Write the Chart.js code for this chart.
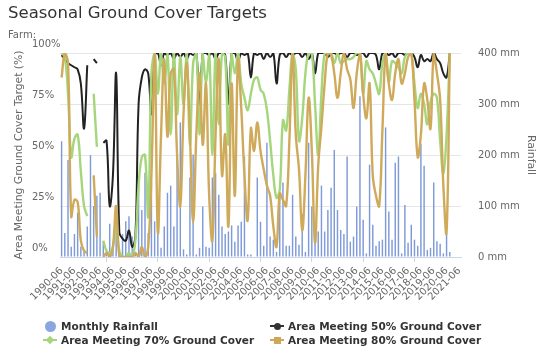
<!DOCTYPE html>
<html>
<head>
<meta charset="utf-8">
<script src="https://cdn.jsdelivr.net/npm/chart.js@4.4.1/dist/chart.umd.min.js"></script>
<style>
  body { margin: 0; background: #fff; }
  #wrap { position: relative; width: 552px; height: 362px; }
  .txt { position: absolute; font: bold 10.5px 'DejaVu Sans', sans-serif; color: #333; line-height: 14px; white-space: nowrap; }
  .mk { position: absolute; }
</style>
</head>
<body>
<div id="wrap">
  <canvas id="myChart" width="552" height="362"></canvas>
  <div id="legend">
    <span class="mk" style="left:44.5px;top:320.5px;width:11px;height:11px;border-radius:50%;background:#8ba5e0"></span>
    <span class="txt" style="left:61px;top:319px">Monthly Rainfall</span>

    <span class="mk" style="left:270px;top:325px;width:14px;height:2px;background:#333"></span>
    <span class="mk" style="left:273.5px;top:322.5px;width:7px;height:7px;border-radius:50%;background:#333"></span>
    <span class="txt" style="left:288px;top:319px">Area Meeting 50% Ground Cover</span>

    <span class="mk" style="left:43px;top:339px;width:14px;height:2px;background:#a5d67c"></span>
    <span class="mk" style="left:47px;top:337px;width:6px;height:6px;transform:rotate(45deg);background:#a5d67c"></span>
    <span class="txt" style="left:61px;top:333px">Area Meeting 70% Ground Cover</span>

    <span class="mk" style="left:270px;top:339px;width:14px;height:2px;background:#cda857"></span>
    <span class="mk" style="left:273.5px;top:336.5px;width:7px;height:7px;background:#cda857"></span>
    <span class="txt" style="left:288px;top:333px">Area Meeting 80% Ground Cover</span>
  </div>
</div>
<script>
// seasons, one label per quarter from 1990-06 to 2021-06
var seasons = [];
var months = ['03', '06', '09', '12'];
for (var yr = 1990; yr <= 2021; yr++) {
  months.forEach(function(m) {
    var lbl = yr + '-' + m;
    if (lbl >= '1990-06' && lbl <= '2021-06') seasons.push(lbl);
  });
}

// rainfall (mm)
var rainfall = [
  227, 47, 190, 20, 45, 87, 20, 10, 60, 200,
  100, 120, 126, 30, 10, 65, 20, 90, 10, 45,
  70, 80, 40, 10, 142, 92, 165, 47, 146, 70,
  47, 18, 60, 126, 140, 60, 217, 264, 15, 5,
  156, 201, 5, 18, 99, 20, 18, 156, 165, 122,
  60, 45, 50, 62, 30, 62, 69, 197, 5, 5,
  0, 156, 69, 22, 224, 40, 34, 10, 122, 146,
  22, 22, 122, 40, 24, 85, 10, 224, 99, 60,
  50, 140, 50, 92, 136, 210, 92, 53, 45, 197,
  30, 40, 99, 315, 73, 7, 181, 63, 22, 31,
  34, 254, 89, 34, 185, 197, 7, 102, 28, 63,
  34, 22, 222, 179, 14, 18, 146, 31, 26, 7,
  45, 10, 0, 0, 0
];

// % of area meeting 50% cover
var cover50 = [
  99, 97, 95, 94, 93, 92, 85, 63, 94, null,
  97, 95, null, 56, 57, 25, 40, 90, 12, 9,
  8, 13, 5, 10, 75, 88, 92, 90, 70, 99,
  100, 94, 100, 99, 100, 97, 100, 98, 100, 97,
  100, 99, 100, 74, 100, 100, 99, 100, 97, 100,
  100, 99, 75, 100, 100, 96, 100, 99, 100, 88,
  100, 99, 100, 97, 100, 98, 100, 85, 99, 100,
  98, 100, 99, 100, 100, 98, 100, 97, 100, 90,
  100, 100, 100, 98, 100, 100, 99, 100, 100, 98,
  100, 100, 99, 100, 100, 98, 100, 100, 99, 92,
  100, 100, 99, 100, 98, 100, 100, 99, 100, 100,
  98, 93, 99, 96, 97, 96, 100, 97, 95, 90,
  88, 100, null, null, null
];

// % of area meeting 70% cover
var cover70 = [
  100, 98, 80, 49, 58, 60, 42, 25, 20, null,
  80, 54, null, 8, 3, 2, 5, 15, 3, 0,
  0, 2, 0, 8, 35, 49, 50, 20, 90, 100,
  80, 100, 85, 100, 60, 100, 70, 98, 75, 100,
  55, 95, 100, 60, 100, 85, 100, 50, 100, 65,
  100, 98, 55, 100, 90, 100, 85, 78, 72, 80,
  87, 88, 82, 80, 72, 57, 40, 29, 33, 67,
  62, 82, 100, 92, 57, 68, 90, 100, 100, 75,
  50, 80, 100, 100, 100, 95, 100, 95, 96, 97,
  97, 98, 100, 100, 80, 96, 92, 90, 85, 80,
  95, 100, 86, 96, 95, 93, 90, 98, 100, 100,
  85, 73, 80, 75, 65, 76, 80, 78, 57, 41,
  60, 100, null, null, null
];

// % of area meeting 80% cover
var cover80 = [
  88, 100, 95, 20, 28, 27, 8, 3, 2, null,
  40, 10, null, 0, 2, 0, 5, 25, 0, 0,
  0, 0, 0, 2, 0, 5, 0, 5, 40, 100,
  12, 60, 97, 59, 90, 92, 50, 25, 70, 95,
  60, 17, 60, 90, 55, 85, 30, 8, 60, 97,
  40, 60, 15, 85, 30, 97, 73, 40, 18, 63,
  52, 66, 52, 43, 35, 30, 15, 5, 31, 28,
  25, 57, 100, 60, 43, 13, 40, 78, 52, 7,
  45, 64, 85, 100, 99, 90, 78, 90, 100, 92,
  87, 73, 90, 100, 80, 68, 85, 40, 30, 25,
  62, 100, 85, 77, 90, 97, 85, 90, 98, 100,
  77, 49, 60, 85, 77, 63, 100, 90, 77, 35,
  12, 100, null, null, null
];

Chart.defaults.font.family = "'DejaVu Sans', sans-serif";
Chart.defaults.color = '#666';

function coverLine(label, data, color, width, order) {
  return {
    type: 'line',
    label: label,
    data: data,
    yAxisID: 'y',
    borderColor: color,
    backgroundColor: color,
    borderWidth: width,
    pointRadius: 0,
    tension: 0.4,
    order: order
  };
}

var ctx = document.getElementById('myChart');
var myChart = new Chart(ctx, {
  type: 'bar',
  data: {
    labels: seasons,
    datasets: [
      {
        label: 'Monthly Rainfall',
        data: rainfall,
        yAxisID: 'rain',
        backgroundColor: '#7f9ad8',
        barPercentage: 0.45,
        categoryPercentage: 1,
        order: 4
      },
      coverLine('Area Meeting 50% Ground Cover', cover50, '#222222', 2, 3),
      coverLine('Area Meeting 70% Ground Cover', cover70, '#a5d67c', 2.4, 2),
      coverLine('Area Meeting 80% Ground Cover', cover80, '#cfaa5a', 2.4, 1)
    ]
  },
  options: {
    responsive: false,
    animation: false,
    layout: { padding: { left: 8, right: 0, top: 0, bottom: 50 } },
    plugins: {
      legend: { display: false },
      tooltip: { enabled: false },
      title: {
        display: true,
        text: 'Seasonal Ground Cover Targets',
        align: 'start',
        color: '#333',
        font: { size: 16.5, weight: 'normal' },
        padding: { top: 4, bottom: 6 }
      },
      subtitle: {
        display: true,
        text: 'Farm:',
        align: 'start',
        color: '#666',
        font: { size: 10 },
        padding: { top: 0, bottom: 11.2 }
      }
    },
    scales: {
      x: {
        ticks: {
          autoSkip: false,
          minRotation: 45,
          maxRotation: 45,
          font: { size: 10 },
          callback: function(val, i) {
            return i % 4 === 0 ? this.getLabelForValue(val) : null;
          }
        },
        grid: {
          drawOnChartArea: false,
          tickLength: 5,
          color: function(c) { return c.index % 4 === 0 ? '#ccd6eb' : 'rgba(0,0,0,0)'; }
        },
        border: { color: '#ccd6eb' },
        afterFit: function(s) { s.height = 55; }
      },
      y: {
        position: 'left',
        min: 0,
        max: 100,
        ticks: {
          stepSize: 25,
          mirror: true,
          padding: -28,
          labelOffset: -9,
          font: { size: 10 },
          callback: function(v) { return v + '%'; }
        },
        grid: { display: false },
        border: { display: false },
        title: {
          display: true,
          text: 'Area Meeting Ground Cover Target (%)',
          font: { size: 10.8 },
          padding: { top: 5, bottom: 0 }
        },
        afterFit: function(s) { s.width = 52; }
      },
      rain: {
        position: 'right',
        min: 0,
        max: 400,
        ticks: {
          stepSize: 100,
          padding: 17,
          font: { size: 10 },
          callback: function(v) { return v + ' mm'; }
        },
        grid: { color: '#e6e6e6', drawTicks: false },
        border: { display: false },
        title: {
          display: true,
          text: 'Rainfall',
          font: { size: 10.8 },
          padding: { top: 14.5, bottom: 0 }
        },
        afterFit: function(s) { s.width = 91; }
      }
    }
  }
});
</script>
</body>
</html>
